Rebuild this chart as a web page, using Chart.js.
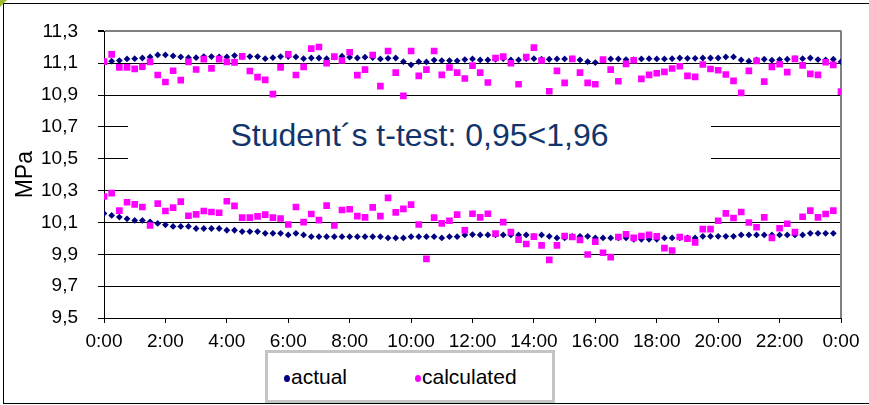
<!DOCTYPE html>
<html>
<head>
<meta charset="utf-8">
<script src="https://cdn.jsdelivr.net/npm/chart.js@4.4.0/dist/chart.umd.min.js"></script>
<style>
  html, body { margin: 0; padding: 0; background: #fff; }
  #wrap { position: relative; width: 869px; height: 405px; overflow: hidden; font-family: Arial, "Liberation Sans", sans-serif; }
  #chart { position: absolute; left: 0; top: 0; }
  #frame { position: absolute; left: 3px; top: 3px; width: 900px; height: 401px; border: 1px solid #000; box-sizing: border-box; pointer-events: none; }
  #corner { position: absolute; left: 0; top: 0; width: 0; height: 0; border-top: 7px solid #9bbb30; border-right: 7px solid transparent; }
  #note { position: absolute; left: 128px; top: 105px; width: 583px; height: 60px; background: #fff;
          display: flex; align-items: center; justify-content: center; font-size: 32px; color: #12346c; white-space: nowrap; }
  #legend { position: absolute; left: 265px; top: 350px; width: 290px; height: 53px; border: 3px solid #c4c4c4; box-sizing: border-box; background: #fff; }
  .item { position: absolute; top: 12px; font-size: 21px; color: #000; line-height: 24px; }
  .dot { display: inline-block; width: 6px; height: 7px; border-radius: 50%; margin-right: 1px; vertical-align: 2px; }
</style>
</head>
<body>
<div id="wrap">
  <canvas id="chart" width="869" height="405"></canvas>
  <div id="note">Student´s t-test: 0,95&lt;1,96</div>
  <div id="legend">
    <div class="item" style="left:16px"><span class="dot" style="background:#000080"></span>actual</div>
    <div class="item" style="left:147px"><span class="dot" style="background:#ff00ff"></span>calculated</div>
  </div>
  <div id="frame"></div>
  <div id="corner"></div>
</div>
<script>
// readings every 15 minutes, 0:00 to 24:00
const stepMinutes = 15;

const xTickLabels = ['0:00', '2:00', '4:00', '6:00', '8:00', '10:00', '12:00',
  '14:00', '16:00', '18:00', '20:00', '22:00', '0:00'];
const yTickLabels = ['9,5', '9,7', '9,9', '10,1', '10,3', '10,5', '10,7', '10,9', '11,1', '11,3'];

// upper pressure level
const upperActual = [
  11.11, 11.113, 11.117, 11.127, 11.129, 11.133, 11.14, 11.152, 11.152, 11.146,
  11.14, 11.135, 11.135, 11.142, 11.142, 11.14, 11.14, 11.148, 11.142, 11.142,
  11.142, 11.129, 11.135, 11.142, 11.142, 11.14, 11.129, 11.133, 11.133, 11.129,
  11.138, 11.144, 11.138, 11.133, 11.138, 11.136, 11.127, 11.131, 11.133, 11.11,
  11.09, 11.11, 11.108, 11.12, 11.117, 11.117, 11.115, 11.123, 11.127, 11.121,
  11.121, 11.125, 11.129, 11.121, 11.121, 11.129, 11.129, 11.125, 11.125, 11.127,
  11.127, 11.127, 11.121, 11.11, 11.104, 11.121, 11.127, 11.127, 11.123, 11.123,
  11.127, 11.129, 11.127, 11.127, 11.129, 11.133, 11.131, 11.131, 11.133, 11.133,
  11.133, 11.14, 11.14, 11.121, 11.113, 11.121, 11.125, 11.119, 11.123, 11.125,
  11.129, 11.129, 11.133, 11.123, 11.121, 11.125, 11.11
];
const upperCalculated = [
  11.11, 11.156, 11.074, 11.074, 11.065, 11.078, 11.109, 11.026, 10.982, 11.053,
  10.994, 11.109, 11.061, 11.126, 11.068, 11.126, 11.109, 11.105, 11.143, 11.051,
  11.013, 10.996, 10.906, 11.074, 11.156, 11.026, 11.077, 11.192, 11.202, 11.1,
  11.142, 11.117, 11.169, 11.025, 11.06, 11.152, 10.956, 11.177, 11.041, 10.895,
  11.177, 11.021, 11.06, 11.177, 11.027, 11.073, 11.041, 11.004, 11.085, 11.041,
  10.979, 11.133, 11.142, 11.1, 10.968, 11.138, 11.198, 11.117, 10.924, 11.052,
  10.977, 11.127, 11.041, 10.977, 10.968, 11.123, 11.06, 10.987, 11.096, 11.119,
  11.002, 11.027, 11.037, 11.046, 11.067, 11.081, 11.021, 11.014, 11.092, 11.064,
  11.056, 11.029, 10.989, 10.914, 11.052, 11.115, 10.985, 11.077, 11.094, 11.044,
  11.127, 11.087, 11.033, 11.027, 11.106, 11.09, 10.922
];

// lower pressure level
const lowerActual = [
  10.157, 10.144, 10.134, 10.123, 10.113, 10.113, 10.104, 10.094, 10.085, 10.075,
  10.075, 10.075, 10.062, 10.062, 10.062, 10.062, 10.051, 10.051, 10.043, 10.043,
  10.043, 10.032, 10.032, 10.032, 10.022, 10.032, 10.022, 10.011, 10.011, 10.011,
  10.011, 10.011, 10.011, 10.011, 10.011, 10.011, 10.011, 10.003, 10.003, 10.003,
  10.011, 10.011, 10.011, 10.011, 10.003, 10.011, 10.011, 10.022, 10.024, 10.022,
  10.022, 10.022, 10.022, 10.022, 10.022, 10.022, 10.013, 10.022, 10.013, 10.003,
  10.003, 10.013, 10.013, 10.013, 10.003, 10.003, 10.003, 10.003, 10.003, 9.994,
  9.994, 9.994, 9.994, 10.003, 10.003, 10.003, 10.003, 10.003, 10.013, 10.013,
  10.013, 10.013, 10.013, 10.022, 10.022, 10.022, 10.022, 10.022, 10.022, 10.022,
  10.022, 10.022, 10.032, 10.032, 10.032, 10.032
];
const lowerCalculated = [
  10.263, 10.284, 10.174, 10.227, 10.214, 10.197, 10.081, 10.218, 10.172, 10.193,
  10.231, 10.142, 10.151, 10.172, 10.166, 10.161, 10.233, 10.204, 10.13, 10.13,
  10.138, 10.149, 10.13, 10.125, 10.087, 10.197, 10.102, 10.153, 10.115, 10.206,
  10.081, 10.178, 10.183, 10.14, 10.132, 10.195, 10.14, 10.254, 10.163, 10.185,
  10.212, 10.087, 9.871, 10.13, 10.094, 10.111, 10.149, 10.051, 10.155, 10.132,
  10.155, 10.03, 10.102, 10.039, 9.992, 9.965, 10.011, 9.956, 9.865, 9.956,
  10.015, 10.009, 9.99, 9.899, 9.979, 9.91, 9.882, 10.009, 10.026, 10.003,
  10.015, 10.022, 10.013, 9.939, 9.924, 10.009, 9.998, 9.975, 10.058, 10.058,
  10.111, 10.157, 10.128, 10.166, 10.1, 10.07, 10.132, 10.003, 10.064, 10.092,
  10.039, 10.136, 10.174, 10.132, 10.153, 10.174
];

const fontFamily = 'Arial, "Liberation Sans", sans-serif';

function toPoints(values) {
  return values.map((v, i) => ({ x: i * stepMinutes, y: v }));
}

// gray border on the right side of the plot area (Excel style)
const plotBorder = {
  id: 'plotBorder',
  beforeDatasetsDraw(chart) {
    const { ctx, chartArea } = chart;
    ctx.save();
    ctx.strokeStyle = '#808080';
    ctx.lineWidth = 2;
    ctx.beginPath();
    ctx.moveTo(chartArea.right, chartArea.top - 1);
    ctx.lineTo(chartArea.right, chartArea.bottom);
    ctx.stroke();
    ctx.restore();
  }
};

const ctx = document.getElementById('chart').getContext('2d');

new Chart(ctx, {
  type: 'scatter',
  data: {
    datasets: [
      {
        label: 'calculated',
        data: toPoints(upperCalculated).concat(toPoints(lowerCalculated)),
        pointStyle: 'rect',
        pointRadius: 4.7,
        borderWidth: 0,
        backgroundColor: '#ff00ff',
        borderColor: '#ff00ff'
      },
      {
        label: 'actual',
        data: toPoints(upperActual).concat(toPoints(lowerActual)),
        pointStyle: 'rectRot',
        pointRadius: 3.4,
        borderWidth: 0,
        backgroundColor: '#000080',
        borderColor: '#000080'
      }
    ]
  },
  options: {
    responsive: false,
    animation: false,
    devicePixelRatio: 1,
    layout: { padding: { top: 31, right: 28, bottom: 0, left: 0 } },
    plugins: {
      legend: { display: false },
      tooltip: { enabled: false }
    },
    scales: {
      x: {
        type: 'linear',
        min: 0,
        max: 1440,
        afterFit: scale => { scale.height = 87; },
        ticks: {
          stepSize: 120,
          autoSkip: false,
          maxRotation: 0,
          padding: 7,
          color: '#000',
          font: { family: fontFamily, size: 19 },
          callback: (value, index) => xTickLabels[index]
        },
        grid: { drawOnChartArea: false, tickLength: 5, tickColor: '#000', color: '#000' },
        border: { color: '#000', width: 1 }
      },
      y: {
        min: 9.5,
        max: 11.3,
        afterFit: scale => { scale.width = 104; },
        ticks: {
          stepSize: 0.2,
          padding: 20,
          color: '#000',
          font: { family: fontFamily, size: 19 },
          callback: (value, index) => yTickLabels[index]
        },
        grid: {
          tickLength: 6,
          tickColor: '#000',
          color: c => (Math.abs(c.tick.value - 11.3) < 1e-6 ? '#808080' : '#000'),
          lineWidth: c => (Math.abs(c.tick.value - 11.3) < 1e-6 ? 2 : 1)
        },
        border: { color: '#000', width: 1 },
        title: {
          display: true,
          text: 'MPa',
          color: '#000',
          font: { family: fontFamily, size: 23 },
          padding: { top: 12, bottom: 0 }
        }
      }
    }
  },
  plugins: [plotBorder]
});
</script>
</body>
</html>
